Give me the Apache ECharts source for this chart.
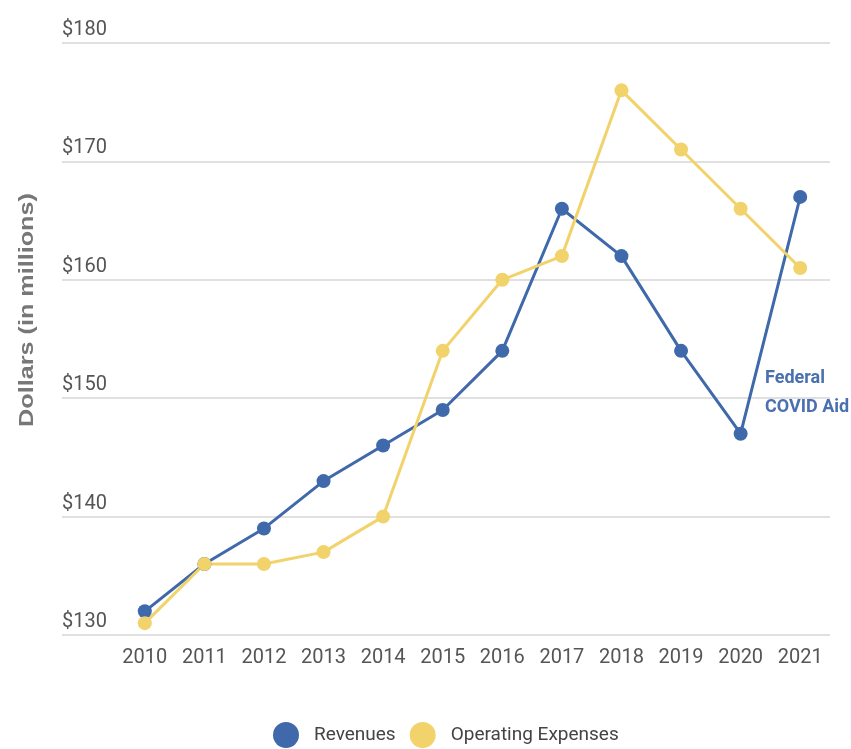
<!DOCTYPE html>
<html>
<head>
<meta charset="utf-8">
<script src="https://cdn.jsdelivr.net/npm/echarts@6/dist/echarts.min.js"></script>
<style>
  html, body { margin: 0; padding: 0; background: #fff; }
  #main { width: 851px; height: 749px; }
</style>
</head>
<body>
<div id="main"></div>
<script>
// years on the x axis
var years = ['2010', '2011', '2012', '2013', '2014', '2015', '2016', '2017', '2018', '2019', '2020', '2021'];
// dollars, in millions
var revenues = [132, 136, 139, 143, 146, 149, 154, 166, 162, 154, 147, 167];
var expenses = [131, 136, 136, 137, 140, 154, 160, 162, 176, 171, 166, 161];

var blue = '#3f69aa';
var yellow = '#f2d26a';

var myChart = echarts.init(document.getElementById('main'));

var option = {
    animation: false,
    textStyle: { fontFamily: 'Roboto' },
    // grid 0 only draws the long gridlines + labels, grid 1 holds the lines
    grid: [
        { left: 62, right: 21, top: 43, bottom: 114 },
        { left: 115, right: 21, top: 43, bottom: 114 }
    ],
    xAxis: [
        { type: 'value', gridIndex: 0, show: false, min: 0, max: 1 },
        {
            type: 'category', gridIndex: 1, data: years, boundaryGap: true,
            axisLine: { show: false },
            axisTick: { show: false },
            axisLabel: { color: '#555', fontSize: 20, margin: 13 }
        }
    ],
    yAxis: [
        {
            type: 'value', gridIndex: 0, min: 130, max: 180, interval: 10,
            axisLine: { show: false },
            axisTick: { show: false },
            splitLine: { lineStyle: { color: '#e0e0e0', width: 2 } },
            axisLabel: {
                inside: true, align: 'left', verticalAlign: 'bottom',
                margin: 0, padding: [0, 0, 3, 0],
                color: '#555', fontSize: 20,
                formatter: function (v) { return '$' + v; }
            }
        },
        { type: 'value', gridIndex: 1, min: 130, max: 180, interval: 10, show: false, splitLine: { show: false } }
    ],
    legend: {
        top: 717,
        left: 268,
        icon: 'circle',
        itemWidth: 26,
        itemHeight: 26,
        itemGap: 14,
        textStyle: { color: '#444', fontSize: 19, padding: [0, 0, 0, 10] },
        data: ['Revenues', 'Operating Expenses']
    },
    graphic: [
        {
            type: 'text', x: 27, y: 310, rotation: Math.PI / 2, scaleX: 1.2,
            style: {
                text: 'Dollars (in millions)', fill: '#777',
                font: 'bold 21px "Liberation Sans", Arial, sans-serif',
                align: 'center', verticalAlign: 'middle'
            }
        },
        {
            type: 'text', left: 765, top: 364,
            style: {
                text: 'Federal\nCOVID Aid', fill: '#4a70b0',
                font: 'bold 18px Roboto', lineHeight: 29
            }
        }
    ],
    series: [
        {
            name: 'Revenues', type: 'line', xAxisIndex: 1, yAxisIndex: 1,
            data: revenues, symbol: 'circle', symbolSize: 14,
            itemStyle: { color: blue },
            lineStyle: { color: blue, width: 3 }
        },
        {
            name: 'Operating Expenses', type: 'line', xAxisIndex: 1, yAxisIndex: 1,
            data: expenses, symbol: 'circle', symbolSize: 14,
            itemStyle: { color: yellow },
            lineStyle: { color: yellow, width: 3 }
        }
    ]
};

myChart.setOption(option);
</script>
</body>
</html>
